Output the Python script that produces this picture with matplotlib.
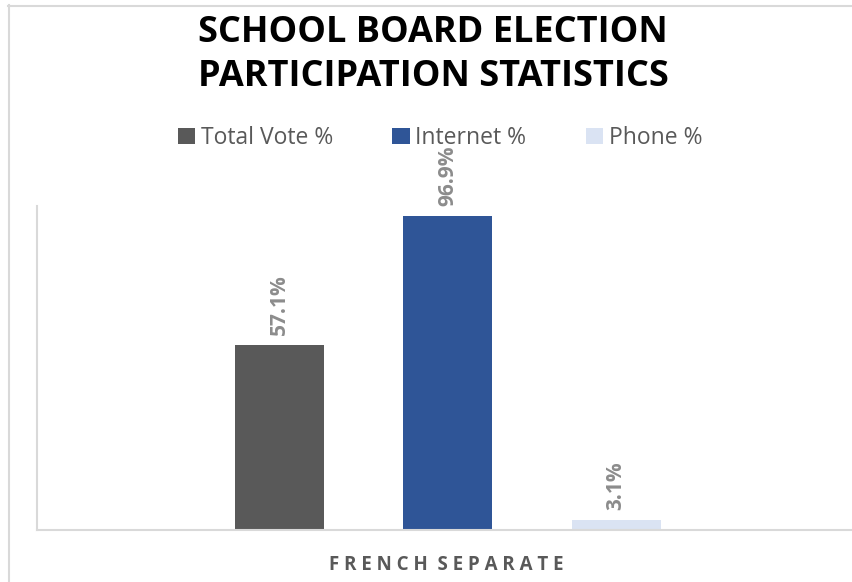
import matplotlib.pyplot as plt
from matplotlib.lines import Line2D
from matplotlib.patches import Patch

# data
category = "FRENCH SEPARATE"
series = ["Total Vote %", "Internet %", "Phone %"]
values = [57.1, 96.9, 3.1]
colors = ["#595959", "#2F5597", "#DAE3F3"]

W, H = 852, 582
fig = plt.figure(figsize=(W / 100, H / 100), dpi=100)

# outer chart frame (cropped on the right / bottom)
fig.add_artist(Line2D([8.5 / W, 8.5 / W], [0, 1 - 5 / H], color="#d9d9d9", lw=1.5))
fig.add_artist(Line2D([8 / W, 1], [1 - 5.5 / H, 1 - 5.5 / H], color="#d9d9d9", lw=1.5))

# plot area
left, right, top, bottom = 37, 852, 206, 530
ax = fig.add_axes([left / W, 1 - bottom / H, (right - left) / W, (bottom - top) / H])

spacing = 168.5
width = 89 / spacing
pos = [-1, 0, 1]
bars = ax.bar(pos, values, width=width, color=colors, label=series)
ax.set_xlim((left - 447.5) / spacing, (right - 447.5) / spacing)
ax.set_ylim(0, 100)

for b, v in zip(bars, values):
    ax.annotate(f"{v:.1f}%", (b.get_x() + b.get_width() / 2, v),
                xytext=(0, 7), textcoords="offset points",
                rotation=90, ha="center", va="bottom",
                fontsize=15, fontweight="bold", color="#8c8c8c",
                family="Open Sans")

for s in ["top", "right"]:
    ax.spines[s].set_visible(False)
for s in ["left", "bottom"]:
    ax.spines[s].set_color("#d9d9d9")
    ax.spines[s].set_linewidth(1.5)
ax.set_yticks([])
ax.set_xticks([])

spaced = "  ".join(" ".join(word) for word in category.split())
fig.text(446 / W, 1 - 565 / H, spaced, ha="center", va="center",
         fontsize=13.5, fontweight="bold", color="#595959", family="Open Sans")

# title
fig.text(433 / W, 1 - 33 / H, "SCHOOL BOARD ELECTION", ha="center", va="center",
         fontsize=26, fontweight="bold", color="black", family="Open Sans")
fig.text(433 / W, 1 - 77 / H, "PARTICIPATION STATISTICS", ha="center", va="center",
         fontsize=26, fontweight="bold", color="black", family="Open Sans")

handles = [Patch(facecolor=c, label=s) for c, s in zip(colors, series)]
fig.legend(handles=handles, loc="center", bbox_to_anchor=(440 / W, 1 - 138 / H),
           ncol=3, frameon=False, handlelength=0.75, handleheight=0.75,
           handletextpad=0.25, columnspacing=2.6,
           prop={"family": "Open Sans", "size": 16.5})
for t in fig.legends[0].get_texts():
    t.set_color("#595959")

fig.savefig("out.png", dpi=100)
